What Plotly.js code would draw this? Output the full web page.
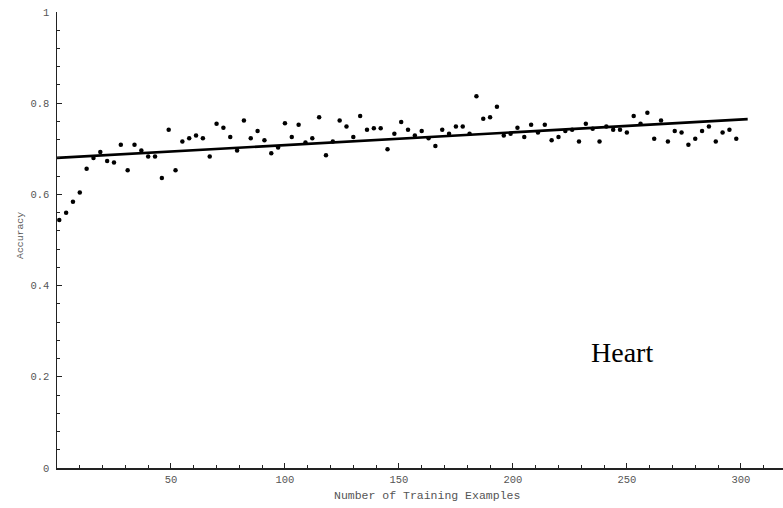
<!DOCTYPE html>
<html>
<head>
<meta charset="utf-8">
<script src="https://cdn.plot.ly/plotly-3.0.1.min.js"></script>
<style>html,body{margin:0;padding:0;background:#fff;}#chart{width:783px;height:508px;}</style>
</head>
<body>
<div id="chart"></div>
<script>
var trainingExamples = [1,4,7,10,13,16,19,22,25,28,31,34,37,40,43,46,49,52,55,58,61,64,67,70,73,76,79,82,85,88,91,94,97,100,103,106,109,112,115,118,121,124,127,130,133,136,139,142,145,148,151,154,157,160,163,166,169,172,175,178,181,184,187,190,193,196,199,202,205,208,211,214,217,220,223,226,229,232,235,238,241,244,247,250,253,256,259,262,265,268,271,274,277,280,283,286,289,292,295,298];
var accuracy = [0.544,0.560,0.584,0.604,0.656,0.680,0.693,0.673,0.670,0.709,0.653,0.709,0.696,0.683,0.683,0.636,0.742,0.653,0.716,0.723,0.729,0.723,0.683,0.755,0.746,0.726,0.696,0.762,0.723,0.739,0.719,0.690,0.703,0.756,0.726,0.753,0.714,0.723,0.769,0.686,0.716,0.762,0.749,0.726,0.772,0.742,0.745,0.745,0.699,0.733,0.759,0.742,0.729,0.739,0.723,0.706,0.742,0.733,0.749,0.749,0.733,0.815,0.766,0.769,0.792,0.729,0.733,0.746,0.726,0.753,0.736,0.753,0.719,0.726,0.739,0.742,0.716,0.755,0.744,0.716,0.749,0.742,0.742,0.736,0.772,0.755,0.779,0.722,0.762,0.716,0.739,0.736,0.709,0.722,0.739,0.749,0.716,0.736,0.742,0.722];
var fitX = [0, 303];
var fitY = [0.680, 0.765];
var xTickVals = [50,100,150,200,250,300];
var xTickText = ['50','100','150','200','250','300'];
var yTickVals = [0,0.2,0.4,0.6,0.8,1];
var yTickText = ['0','0.2','0.4','0.6','0.8','1'];

var mono = 'Liberation Mono, Courier New, monospace';
var traces = [
  {x: fitX, y: fitY, mode: 'lines', line: {color: '#000', width: 2.6}, hoverinfo: 'skip'},
  {x: trainingExamples, y: accuracy, mode: 'markers', marker: {color: '#000', size: 4.5}}
];
var layout = {
  width: 783, height: 508,
  margin: {l: 57, r: 0, t: 12, b: 39.5},
  showlegend: false,
  paper_bgcolor: '#fff', plot_bgcolor: '#fff',
  xaxis: {
    range: [0, 318.5], showgrid: false, zeroline: false,
    showline: true, linecolor: '#222', linewidth: 1.5,
    tickmode: 'array', tickvals: xTickVals, ticktext: xTickText,
    ticks: 'inside', ticklen: 5, tickwidth: 1, tickcolor: '#222',
    minor: {tickmode: 'linear', tick0: 0, dtick: 10, ticks: 'inside', ticklen: 3, tickcolor: '#222', showgrid: false},
    tickfont: {family: mono, size: 10.5, color: '#555'},
    ticklabelstandoff: 1
  },
  yaxis: {
    range: [0, 1], showgrid: false, zeroline: false,
    showline: true, linecolor: '#222', linewidth: 1.5,
    tickmode: 'array', tickvals: yTickVals, ticktext: yTickText,
    ticks: 'inside', ticklen: 5, tickwidth: 1, tickcolor: '#222',
    minor: {tickmode: 'linear', tick0: 0, dtick: 0.04, ticks: 'inside', ticklen: 3, tickcolor: '#222', showgrid: false},
    tickfont: {family: mono, size: 10.5, color: '#555'},
    ticklabelstandoff: 4
  },
  annotations: [
    {text: 'Accuracy', xref: 'paper', yref: 'paper', x: 0, y: 0.5, xshift: -37, yshift: 4,
     xanchor: 'center', yanchor: 'middle', textangle: -90, showarrow: false,
     font: {family: mono, size: 9.8, color: '#555'}},
    {text: 'Number of Training Examples', xref: 'paper', yref: 'paper', x: 0.5096, y: 0, yshift: -27.5,
     xanchor: 'center', yanchor: 'middle', showarrow: false,
     font: {family: mono, size: 11.5, color: '#555'}},
    {text: 'Heart', xref: 'x', yref: 'y', x: 248, y: 0.253, xanchor: 'center', yanchor: 'middle',
     showarrow: false, font: {family: 'Liberation Serif, Times New Roman, serif', size: 28, color: '#000'}}
  ]
};
Plotly.newPlot('chart', traces, layout, {displayModeBar: false, staticPlot: true});
</script>
</body>
</html>
